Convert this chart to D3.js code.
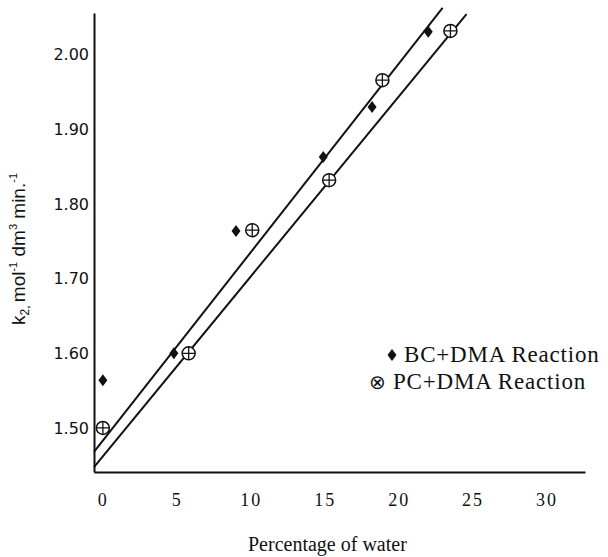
<!DOCTYPE html>
<html>
<head>
<meta charset="utf-8">
<script src="https://cdnjs.cloudflare.com/ajax/libs/d3/7.8.5/d3.min.js"></script>
<style>
  body { margin: 0; background: #fff; }
  svg { display: block; }
</style>
</head>
<body>
<div id="chart"></div>
<script>
// data
var bcWater = [0, 4.8, 9.0, 14.9, 18.2, 22.0];
var bcK2    = [1.564, 1.600, 1.764, 1.863, 1.930, 2.031];
var pcWater = [0, 5.8, 10.1, 15.3, 18.9, 23.5];
var pcK2    = [1.500, 1.600, 1.765, 1.832, 1.966, 2.032];

// fitted lines: [intercept, slope, x end]
var bcFit = [1.483, 0.02524, 22.97];
var pcFit = [1.462, 0.0241, 24.59];

var xTicks = [0, 5, 10, 15, 20, 25, 30];
var yTicks = [1.50, 1.60, 1.70, 1.80, 1.90, 2.00];

var width = 608, height = 557;

var svg = d3.select("#chart").append("svg")
    .attr("width", width)
    .attr("height", height);

var x = d3.scaleLinear().domain([-0.6, 32.6]).range([94, 585]);
var y = d3.scaleLinear().domain([1.441, 2.056]).range([472, 13]);

// axes
var xAxis = svg.append("g")
    .attr("transform", "translate(0,472)")
    .call(d3.axisBottom(x).tickValues(xTicks).tickSize(0).tickSizeOuter(0).tickPadding(21));
xAxis.select(".domain").attr("stroke", "#111").attr("stroke-width", 2);
xAxis.selectAll("text")
    .attr("font-family", "Liberation Serif, serif")
    .attr("font-size", 18)
    .attr("letter-spacing", 2)
    .attr("fill", "#111");

var yAxis = svg.append("g")
    .attr("transform", "translate(94,0)")
    .call(d3.axisLeft(y).tickValues(yTicks).tickSize(0).tickSizeOuter(0).tickPadding(5)
        .tickFormat(d3.format(".2f")));
yAxis.select(".domain").attr("stroke", "#111").attr("stroke-width", 2);
yAxis.selectAll("text")
    .attr("font-family", "DejaVu Sans, sans-serif")
    .attr("font-size", 16)
    .attr("fill", "#111");

// fit lines
var line = d3.line().x(d => x(d[0])).y(d => y(d[1]));
[bcFit, pcFit].forEach(function(f) {
    var x0 = x.domain()[0];
    svg.append("path")
        .datum([[x0, f[0] + f[1] * x0], [f[2], f[0] + f[1] * f[2]]])
        .attr("d", line)
        .attr("fill", "none")
        .attr("stroke", "#111")
        .attr("stroke-width", 2);
});

// BC diamonds
var diamond = "M0,-6L4.5,0L0,6L-4.5,0Z";
svg.selectAll(".bc")
    .data(bcWater.map((w, i) => [w, bcK2[i]]))
    .enter().append("path")
    .attr("class", "bc")
    .attr("d", diamond)
    .attr("transform", d => "translate(" + x(d[0]) + "," + y(d[1]) + ")")
    .attr("fill", "#111");

// PC circles with plus
var pc = svg.selectAll(".pc")
    .data(pcWater.map((w, i) => [w, pcK2[i]]))
    .enter().append("g")
    .attr("class", "pc")
    .attr("transform", d => "translate(" + x(d[0]) + "," + y(d[1]) + ")");
pc.append("circle").attr("r", 6.5).attr("fill", "#fff").attr("stroke", "#111").attr("stroke-width", 1.5);
pc.append("path").attr("d", "M-6.5,0H6.5M0,-6.5V6.5").attr("stroke", "#111").attr("stroke-width", 1.3);

// legend
var leg = svg.append("g")
    .attr("font-family", "Liberation Serif, serif")
    .attr("font-size", 23)
    .attr("letter-spacing", 0.8)
    .attr("fill", "#111");
leg.append("path").attr("d", diamond).attr("transform", "translate(392,355)").attr("fill", "#111");
leg.append("text").attr("x", 404).attr("y", 362).text("BC+DMA Reaction");
leg.append("text").attr("x", 369).attr("y", 389).attr("font-family", "DejaVu Sans, sans-serif")
    .attr("letter-spacing", 0).attr("font-size", 20).text("\u2297");
leg.append("text").attr("x", 393).attr("y", 389).text("PC+DMA Reaction");

// axis titles
svg.append("text")
    .attr("x", 248).attr("y", 551)
    .attr("font-family", "Liberation Serif, serif")
    .attr("font-size", 20)
    .attr("fill", "#111")
    .text("Percentage of water");

var yt = svg.append("text")
    .attr("transform", "translate(25,249) rotate(-90)")
    .attr("text-anchor", "middle")
    .attr("font-family", "Liberation Sans, Arial, sans-serif")
    .attr("font-size", 19)
    .attr("fill", "#111");
yt.append("tspan").text("k");
yt.append("tspan").attr("font-size", 12).attr("dy", 4).text("2, ");
yt.append("tspan").attr("dy", -4).text("mol");
yt.append("tspan").attr("font-size", 11).attr("dy", -8).text("-1");
yt.append("tspan").attr("dy", 8).text(" dm");
yt.append("tspan").attr("font-size", 11).attr("dy", -8).text("3");
yt.append("tspan").attr("dy", 8).text("  min.");
yt.append("tspan").attr("font-size", 11).attr("dy", -8).text("-1");
</script>
</body>
</html>
